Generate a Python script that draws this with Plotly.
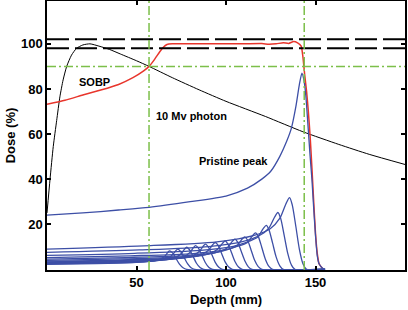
import plotly.graph_objects as go

# ---------------- data ----------------
photon_x = [0, 1.7, 3.5, 5.4, 7.2, 9, 11, 13.7, 16.5, 20, 24, 29, 35, 41, 50, 57, 70, 85, 100, 122, 143, 163, 180, 200]
photon_y = [25, 40, 54.5, 66, 76.5, 84, 90, 95, 98, 99.5, 100, 99, 97.5, 95.5, 92.5, 90, 85, 79.6, 74.5, 67.8, 61, 55.4, 51, 46.5]

sobp_x = [0, 10, 20, 30, 40, 48, 54, 57, 60, 63, 65, 67, 70, 80, 90, 100, 110, 120, 124, 128, 132, 135, 137.8, 140, 142,
          143, 144, 145, 146, 147, 148, 149, 150, 151, 152, 154]
sobp_y = [73.2, 75, 77.3, 79.5, 82, 85, 88, 90, 93, 96.5, 98.5, 99.7, 100, 100, 100, 100, 100, 100.1, 99.8, 100, 100.5,
          100.2, 101, 100.4, 99, 94, 86, 79, 70, 59, 45, 30, 16, 7, 2.5, 0.3]

pristine_x = [0, 20, 40, 57, 80, 100, 112, 120, 125, 130, 134, 136.5, 139, 141, 142.4, 143.5, 144.6, 145.7, 147, 148,
              149, 150, 151, 152, 154, 155.5]
pristine_y = [24, 25, 26.3, 27.5, 30, 32.5, 36, 40, 43.5, 50, 57, 62.5, 72, 82, 87, 84, 77, 65, 50, 40,
              27, 15, 6, 2.5, 0.5, 0]

# weighted (smaller) Bragg peaks
peak01_x = [0, 54.2, 94.9, 115.2, 124.7, 130.1, 133.5, 135.5, 137, 139, 141, 143, 145, 155]
peak01_y = [9.0, 10.4, 12.2, 14.9, 18.0, 22.7, 29.1, 31.8, 28.6, 19.1, 8.9, 2.5, 0, 0]
peak02_x = [0, 51.6, 90.3, 109.7, 118.7, 123.8, 127.1, 129, 130.5, 132.5, 134.5, 136.5, 138.5, 155]
peak02_y = [7.5, 8.6, 10.1, 12.4, 15.0, 18.1, 23.1, 25.2, 22.7, 15.1, 7.1, 2.0, 0, 0]
peak03_x = [0, 49, 85.8, 104.1, 112.7, 117.6, 120.7, 122.5, 124, 126, 128, 130, 132, 155]
peak03_y = [6.2, 7.1, 8.4, 10.2, 12.4, 14.2, 17.9, 19.5, 17.6, 11.7, 5.5, 1.6, 0, 0]
peak04_x = [0, 46.6, 81.6, 99, 107.2, 111.8, 114.8, 116.5, 118, 120, 122, 124, 126, 155]
peak04_y = [5.2, 6.0, 7.0, 8.6, 10.4, 11.8, 14.9, 16.2, 14.6, 9.7, 4.5, 1.3, 0, 0]
peak05_x = [0, 44.2, 77.4, 93.9, 101.7, 106.1, 108.8, 110.5, 112, 114, 116, 118, 120, 155]
peak05_y = [4.5, 5.2, 6.1, 7.4, 9.0, 10.4, 13.2, 14.4, 13.0, 8.6, 4.0, 1.2, 0, 0]
peak06_x = [0, 42, 73.5, 89.3, 96.6, 100.8, 103.4, 105, 106.5, 108.5, 110.5, 112.5, 114.5, 155]
peak06_y = [4.0, 4.6, 5.4, 6.6, 8.0, 9.6, 12.3, 13.4, 12.1, 8.0, 3.8, 1.1, 0, 0]
peak07_x = [0, 39.8, 69.7, 84.6, 91.5, 95.5, 98, 99.5, 101, 103, 105, 107, 109, 155]
peak07_y = [3.6, 4.1, 4.9, 5.9, 7.2, 9.0, 11.5, 12.6, 11.3, 7.6, 3.5, 1.0, 0, 0]
peak08_x = [0, 37.6, 65.8, 79.9, 86.5, 90.2, 92.6, 94, 95.5, 97.5, 99.5, 101.5, 103.5, 155]
peak08_y = [3.3, 3.8, 4.5, 5.4, 6.6, 8.5, 10.9, 11.9, 10.7, 7.1, 3.3, 1.0, 0, 0]
peak09_x = [0, 35.4, 62, 75.2, 81.4, 85, 87.2, 88.5, 90, 92, 94, 96, 98, 155]
peak09_y = [3.0, 3.5, 4.1, 5.0, 6.0, 7.9, 10.2, 11.2, 10.1, 6.7, 3.1, 0.9, 0, 0]
peak10_x = [0, 33.2, 58.1, 70.6, 76.4, 79.7, 81.8, 83, 84.5, 86.5, 88.5, 90.5, 92.5, 155]
peak10_y = [2.8, 3.2, 3.8, 4.6, 5.6, 7.4, 9.6, 10.5, 9.5, 6.3, 2.9, 0.8, 0, 0]
peak11_x = [0, 31.2, 54.6, 66.3, 71.8, 74.9, 76.8, 78, 79.5, 81.5, 83.5, 85.5, 87.5, 155]
peak11_y = [2.6, 3.0, 3.5, 4.3, 5.2, 6.9, 8.9, 9.8, 8.8, 5.9, 2.7, 0.8, 0, 0]
peak12_x = [0, 29.2, 51.1, 62.1, 67.2, 70.1, 71.9, 73, 74.5, 76.5, 78.5, 80.5, 82.5, 155]
peak12_y = [2.4, 2.8, 3.2, 4.0, 4.8, 6.4, 8.2, 9.0, 8.1, 5.4, 2.5, 0.7, 0, 0]
peak13_x = [0, 27.4, 48, 58.2, 63, 65.8, 67.5, 68.5, 70, 72, 74, 76, 78, 155]
peak13_y = [2.2, 2.5, 3.0, 3.6, 4.4, 5.8, 7.5, 8.2, 7.4, 4.9, 2.3, 0.7, 0, 0]

small_peaks = [
    (peak01_x, peak01_y), (peak02_x, peak02_y), (peak03_x, peak03_y), (peak04_x, peak04_y),
    (peak05_x, peak05_y), (peak06_x, peak06_y), (peak07_x, peak07_y), (peak08_x, peak08_y),
    (peak09_x, peak09_y), (peak10_x, peak10_y), (peak11_x, peak11_y), (peak12_x, peak12_y),
    (peak13_x, peak13_y),
]

tolerance_levels = [98, 102]
reference_dose = [90]
reference_depths = [57, 143.7]

x_ticks = [50, 100, 150]
y_ticks = [20, 40, 60, 80, 100]

labels_text = ["SOBP", "10 Mv photon", "Pristine peak"]
labels_x = [26.5, 80.6, 104.2]
labels_y = [83.3, 67.9, 48]

# ---------------- figure ----------------
BLUE = "#3d4fa6"
RED = "#e8352c"
GREEN = "#7cbf4a"
FONT = "Arial, Liberation Sans, Helvetica, sans-serif"

fig = go.Figure()

fig.add_trace(go.Scatter(x=photon_x, y=photon_y, mode="lines",
                         line=dict(color="black", width=1, shape="spline", smoothing=0.6)))
fig.add_trace(go.Scatter(x=sobp_x, y=sobp_y, mode="lines",
                         line=dict(color=RED, width=1.5, shape="spline", smoothing=0.5)))
for px_, py_ in small_peaks:
    fig.add_trace(go.Scatter(x=px_, y=py_, mode="lines",
                             line=dict(color=BLUE, width=1.3, shape="spline", smoothing=0.8)))
fig.add_trace(go.Scatter(x=pristine_x, y=pristine_y, mode="lines",
                         line=dict(color=BLUE, width=1.3, shape="spline", smoothing=0.6)))

for lv in tolerance_levels:
    fig.add_hline(y=lv, line=dict(color="black", width=2, dash="22px,6px"))
for lv in reference_dose:
    fig.add_hline(y=lv, line=dict(color=GREEN, width=1.5, dash="9px,3px,2px,3px"))
for d in reference_depths:
    fig.add_vline(x=d, line=dict(color=GREEN, width=1.5, dash="9px,3px,2px,3px"))

for t, lx, ly in zip(labels_text, labels_x, labels_y):
    fig.add_annotation(x=lx, y=ly, text=t, showarrow=False,
                       font=dict(family=FONT, size=11, color="black", weight="bold"))

axis_common = dict(showline=True, linecolor="black", linewidth=1.5, mirror="ticks",
                   ticks="inside", ticklen=4, tickwidth=1.5, tickcolor="black",
                   showgrid=False, zeroline=False, automargin=False,
                   tickfont=dict(family=FONT, size=13, color="black", weight="bold"))

fig.update_xaxes(range=[0, 200], tickvals=x_ticks,
                 title=dict(text="Depth (mm)", font=dict(family=FONT, size=13, color="black", weight="bold"),
                            standoff=6),
                 **axis_common)
fig.update_yaxes(range=[-0.3, 119], tickvals=y_ticks,
                 title=dict(text="Dose (%)", font=dict(family=FONT, size=13, color="black", weight="bold"),
                            standoff=2),
                 **axis_common)

fig.update_layout(width=408, height=310, showlegend=False,
                  margin=dict(l=47, r=3, t=1, b=40),
                  plot_bgcolor="white", paper_bgcolor="white")

fig.write_html("out.html", config={"displayModeBar": False},
               post_script="document.body.style.margin='0';")
